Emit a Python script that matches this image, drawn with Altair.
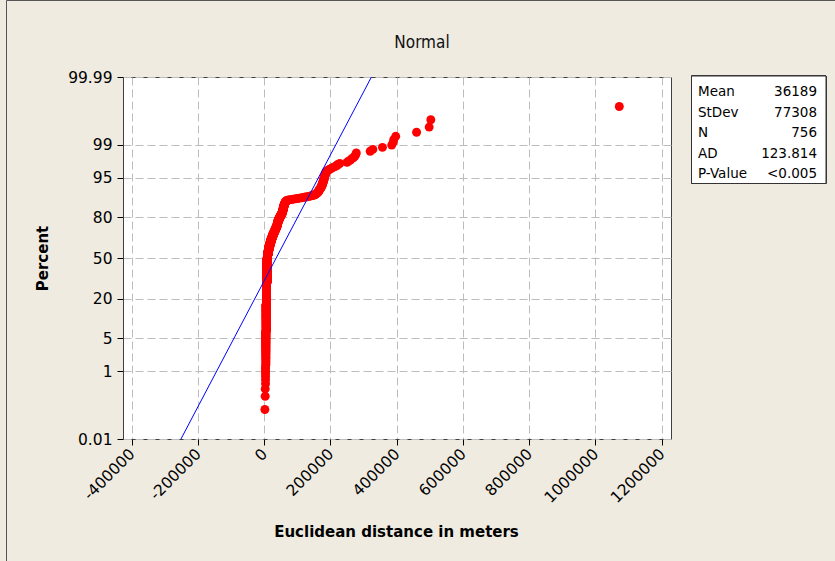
import altair as alt
import pandas as pd
import numpy as np
from statistics import NormalDist

# ---- data ----------------------------------------------------------------
# distinct distances (m) and number of the 756 observations at each value
dist_values = [2000, 3000, 4000, 5000, 6000, 7000, 8000, 9000,
               10000, 12000, 14000, 17000, 20000, 23000, 26000, 29000, 32000,
               35000, 38000, 40000, 42000, 45000, 48000, 51000, 54000, 56000,
               58000, 60000, 62000,
               63000, 65000, 68000,
               71000, 76000, 83000, 88000, 95000, 101000, 106000, 113000,
               119000, 124000, 130000, 135000, 140000, 144000, 148000,
               153000, 156000, 159000, 162000, 164000, 166000, 168000, 170000,
               172000, 174000, 176000, 178000, 180000, 181000, 183000, 185000,
               187000, 190000, 194000, 198000, 203000, 208000, 214000, 220000,
               222000, 228000, 250000, 254000, 260000, 264000, 270000, 274000,
               276000, 278000, 320000, 328000, 357000, 385000, 389000, 391000,
               397000, 460000, 498000, 503000, 1072000]
dist_counts = [1, 2, 7, 40, 80, 100, 100, 50,
               20, 25, 25, 20, 20, 15, 15, 12, 12,
               12, 12, 12, 12, 10, 8, 8, 8, 10,
               10, 8, 3,
               4, 3, 3,
               1, 1, 1, 1, 1, 1, 1, 1,
               1, 1, 1, 1, 1, 1, 1,
               2, 2, 2, 2, 3, 3, 2, 2,
               3, 3, 4, 4, 3, 3, 3, 3,
               2, 1, 1, 1, 1, 1, 1, 1,
               1, 1, 1, 1, 1, 1, 1, 1,
               1, 1, 1, 1, 1, 1, 1, 1,
               1, 1, 1, 1, 1]

stat_names = ["Mean", "StDev", "N", "AD", "P-Value"]
stat_texts = ["36189", "77308", "756", "123.814", "<0.005"]
fit_mean = 36189
fit_sd = 77308

percent_ticks = [0.01, 1, 5, 20, 50, 80, 95, 99, 99.99]
x_ticks = [-400000, -300000, -200000, -100000, 0, 100000, 200000, 300000,
           400000, 500000, 600000, 700000, 800000, 900000, 1000000,
           1100000, 1200000]

# ---- frames ----------------------------------------------------------------
pts = pd.DataFrame({"distance": np.repeat(dist_values, dist_counts)})
z_ticks = [NormalDist().inv_cdf(p / 100) for p in percent_ticks]
z_lo, z_hi = z_ticks[0], z_ticks[-1]
fit_df = pd.DataFrame({"z": [z_lo, z_hi]})
stats_df = pd.DataFrame({"name": stat_names, "val": stat_texts,
                         "i": list(range(len(stat_names)))})

FONT = "DejaVu Sans"
W, H = 548, 362

xscale = alt.Scale(domain=[-426300, 1228100], nice=False, zero=False)
yscale = alt.Scale(domain=[z_lo, z_hi], nice=False, zero=False)

xaxis = alt.Axis(
    values=x_ticks,
    labelExpr="datum.value % 200000 == 0 ? '' + datum.value : ''",
    tickOpacity={"condition": {"test": "datum.value % 200000 != 0", "value": 0}, "value": 1},
    labelAngle=-45, labelAlign="right", labelBaseline="middle",
    labelPadding=6, tickSize=6, labelFontSize=15.5, labelFont=FONT,
    title="Euclidean distance in meters", titleX=273, titleY=92,
    titleAlign="center", titleBaseline="middle",
    titleFont=FONT, titleFontSize=15, titleFontWeight="bold",
)
yaxis = alt.Axis(
    values=z_ticks,
    labelExpr="'' + round(cumulativeNormal(datum.value) * 10000) / 100",
    labelPadding=5, tickSize=6, labelFontSize=15.5, labelFont=FONT,
    title="Percent", titleX=-81, titleY=181, titleAngle=270,
    titleAlign="center", titleBaseline="middle",
    titleFont=FONT, titleFontSize=15, titleFontWeight="bold",
)

points = alt.Chart(pts).transform_window(
    rank="row_number()", sort=[alt.SortField("distance", order="ascending")]
).transform_joinaggregate(
    n="count()"
).transform_calculate(
    z="quantileNormal((datum.rank - 0.3) / (datum.n + 0.4))"
).mark_circle(color="#FF0000", opacity=1, size=80).encode(
    x=alt.X("distance:Q", scale=xscale, axis=xaxis),
    y=alt.Y("z:Q", scale=yscale, axis=yaxis),
)

fit = alt.Chart(fit_df).transform_calculate(
    d=f"{fit_mean} + {fit_sd} * datum.z"
).mark_line(color="#0000FF", strokeWidth=1, clip=True).encode(
    x=alt.X("d:Q", scale=xscale),
    y=alt.Y("z:Q", scale=yscale),
)

box = alt.Chart(stats_df).mark_rect(fill="white", stroke="#333333", strokeWidth=1).encode(
    x=alt.value(568.5), x2=alt.value(703), y=alt.value(-1), y2=alt.value(106.5)
)

stat_lab = alt.Chart(stats_df).transform_calculate(
    py="15 + datum.i * 20.6"
).mark_text(align="left", baseline="middle", font=FONT, fontSize=13.5, color="black").encode(
    x=alt.value(575), y=alt.Y("py:Q", scale=None), text="name:N"
)
stat_val = alt.Chart(stats_df).transform_calculate(
    py="15 + datum.i * 20.6"
).mark_text(align="right", baseline="middle", font=FONT, fontSize=13.5, color="black").encode(
    x=alt.value(694), y=alt.Y("py:Q", scale=None), text="val:N"
)

title_df = pd.DataFrame({"t": ["Normal"]})
title = alt.Chart(title_df).mark_text(
    align="center", baseline="middle",
    font="'DejaVu Sans Condensed', 'Liberation Sans Narrow', 'DejaVu Sans'",
    fontSize=17, color="#111111"
).encode(x=alt.value(299), y=alt.value(-34), text="t:N")

outer = alt.Chart(title_df).mark_rect(fill=None, stroke="#555555", strokeWidth=1).encode(
    x=alt.value(-116.5), x2=alt.value(730), y=alt.value(-76.5), y2=alt.value(500)
)

chart = alt.layer(outer, title, points, fit, box, stat_lab, stat_val).properties(
    width=W, height=H,
    padding={"left": 123, "top": 77, "right": 164, "bottom": 122},
    autosize=alt.AutoSizeParams(type="none"),
    background="#EFEBE1",
).configure_view(
    fill="white", stroke="#404040", strokeWidth=1
).configure_axis(
    grid=True, gridColor="#BDBDBD", gridDash=[8, 4], gridWidth=1,
    domain=False, tickColor="black", labelColor="black", titleColor="black",
)

chart.save("out.html", embed_options={"renderer": "svg", "actions": False})
